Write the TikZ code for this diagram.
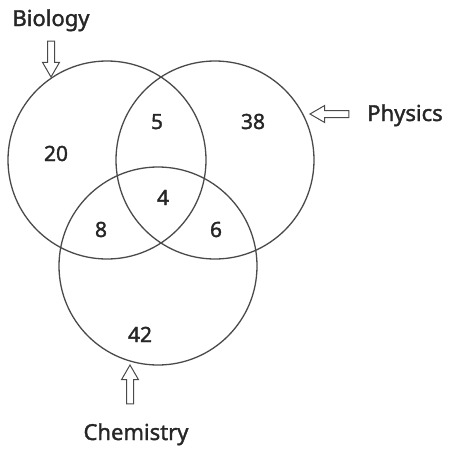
\documentclass[tikz,border=0pt]{standalone}
\usepackage{fontspec}
\setmainfont{Noto Sans}[FakeBold=1.6]
\usetikzlibrary{shapes.arrows}
\definecolor{ink}{HTML}{262626}
\definecolor{ring}{HTML}{4A4A4A}
\begin{document}
\begin{tikzpicture}[x=1pt,y=-1pt,
  setcircle/.style={draw=ring, line width=1.3pt},
  lbl/.style={anchor=base, text=ink, font=\fontsize{22}{24}\selectfont, inner sep=0pt},
  num/.style={anchor=base, text=ink, font=\fontsize{21}{24}\selectfont, inner sep=0pt},
  hollowarrow/.style={single arrow, draw=ring, line width=1pt, fill=white,
    single arrow head extend=5pt, single arrow tip angle=60,
    inner sep=0pt, outer sep=0pt}]
\useasboundingbox (0,0) rectangle (449,450);
% circles
\node[setcircle, circle, minimum size=198pt, inner sep=0pt] (bio) at (107,160) {};
\node[setcircle, circle, minimum size=198pt, inner sep=0pt] (phy) at (215,160) {};
\node[setcircle, circle, minimum size=198pt, inner sep=0pt] (che) at (158,266) {};
% region numbers
\node[num] (n20) at (56,161) {20};
\node[num] (n5) at (157,129) {5};
\node[num] (n38) at (253,129) {38};
\node[num] (n4) at (163,205) {4};
\node[num] (n8) at (101,237) {8};
\node[num] (n6) at (216,237) {6};
\node[num] (n42) at (140,342) {42};
% labels
\node[lbl] (lbio) at (51,26) {Biology};
\node[lbl] (lphy) at (405,121) {Physics};
\node[lbl] (lche) at (136,440) {Chemistry};
% hollow arrows
\node[hollowarrow, minimum height=36pt, rotate=-90] (abio) at (51,56) {\rule{0pt}{6pt}};
\node[hollowarrow, minimum height=39pt, rotate=180] (aphy) at (332.5,114) {\rule{0pt}{6pt}};
\node[hollowarrow, minimum height=39pt, rotate=90] (ache) at (130,387.5) {\rule{0pt}{6pt}};
\end{tikzpicture}
\end{document}
